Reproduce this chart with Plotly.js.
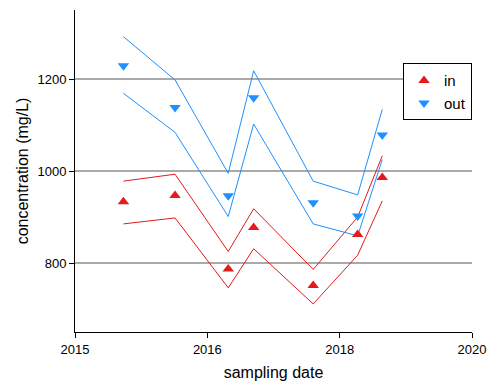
<!DOCTYPE html>
<html>
<head>
<meta charset="utf-8">
<script src="https://cdn.plot.ly/plotly-3.0.1.min.js"></script>
<style>html,body{margin:0;padding:0;background:#fff;}#chart{width:490px;height:382px;}</style>
</head>
<body>
<div id="chart"></div>
<script>
// sampling dates as decimal years
const dates = [2015.61, 2016.26, 2016.93, 2017.25, 2018.00, 2018.56, 2018.87];
const inValues  = [933, 947, 787, 877, 751, 862, 986];
const inUpper   = [978, 993, 825, 918, 786, 900, 1033];
const inLower   = [885, 898, 746, 831, 711, 817, 935];
const outValues = [1229, 1138, 946, 1159, 931, 902, 1078];
const outUpper  = [1292, 1198, 995, 1218, 978, 948, 1134];
const outLower  = [1169, 1084, 901, 1102, 885, 859, 1025];
const xTickVals = [2015, 2016.6667, 2018.3333, 2020];
const xTickText = ['2015', '2016', '2018', '2020'];
const yTickVals = [800, 1000, 1200];

const red = '#e41a1c', blue = '#1e90ff';
const band = (y, c) => ({x: dates, y: y, mode: 'lines', line: {color: c, width: 1}, showlegend: false, hoverinfo: 'skip'});
const traces = [
  band(inUpper, red), band(inLower, red),
  band(outUpper, blue), band(outLower, blue),
  {x: dates, y: inValues, name: 'in', mode: 'markers', marker: {symbol: 'triangle-up', size: 10, color: red}},
  {x: dates, y: outValues, name: 'out', mode: 'markers', marker: {symbol: 'triangle-down', size: 10, color: blue}}
];
const font = {family: 'Liberation Sans, Arial, sans-serif', color: '#000'};
const layout = {
  width: 490, height: 382,
  margin: {l: 75, r: 18, t: 10, b: 50},
  paper_bgcolor: '#fff', plot_bgcolor: '#fff',
  font: Object.assign({size: 13}, font),
  xaxis: {
    range: [2015, 2020], tickvals: xTickVals, ticktext: xTickText,
    showgrid: false, zeroline: false, showline: true, linecolor: '#000', linewidth: 1,
    ticks: 'outside', ticklen: 5, tickcolor: '#000', tickfont: {size: 13},
    title: {text: 'sampling date', font: {size: 16}, standoff: 11}
  },
  yaxis: {
    range: [650, 1350], tickvals: yTickVals,
    showgrid: true, gridcolor: '#aaaaaa', gridwidth: 1.3, zeroline: false,
    showline: true, linecolor: '#000', linewidth: 1,
    ticks: 'outside', ticklen: 5, tickcolor: '#000', tickfont: {size: 13},
    title: {text: 'concentration (mg/L)', font: {size: 16}, standoff: 4}
  },
  legend: {
    x: 1, xanchor: 'right', y: 0.835, yanchor: 'top',
    bordercolor: '#000', borderwidth: 1, bgcolor: '#fff',
    font: {size: 15}, tracegroupgap: 0
  }
};
Plotly.newPlot('chart', traces, layout, {displayModeBar: false, staticPlot: true});
</script>
</body>
</html>
